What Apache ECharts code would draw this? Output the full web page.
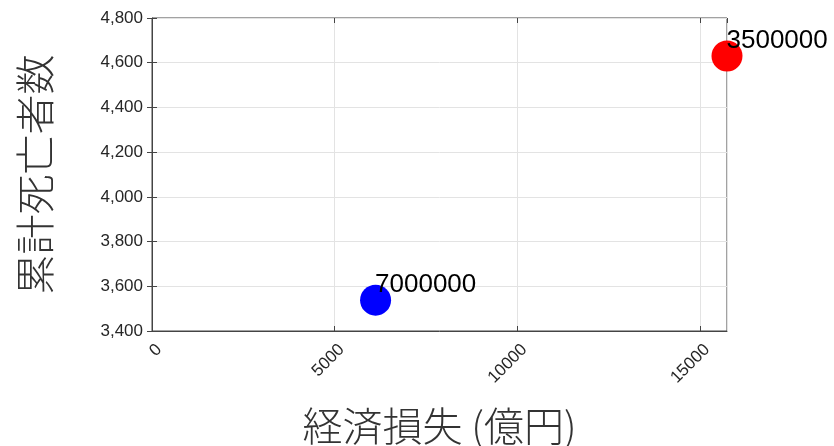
<!DOCTYPE html>
<html>
<head>
<meta charset="utf-8">
<script src="https://cdn.jsdelivr.net/npm/echarts@6/dist/echarts.min.js"></script>
<style>
  html,body{margin:0;padding:0;background:#fff;}
  #main{width:834px;height:446px;}
</style>
</head>
<body>
<div id="main"></div>
<script>
// データ
const losses = [6120, 15740];          // 経済損失 (億円)
const deaths = [3538, 4630];           // 累計死亡者数
const pointLabels = ['7000000', '3500000'];
const pointColors = ['#0000ff', '#ff0000'];
const xTicks = [0, 5000, 10000, 15000];
const yTicks = [3400, 3600, 3800, 4000, 4200, 4400, 4600, 4800];

const chart = echarts.init(document.getElementById('main'));

const tickStyle = {show: true, inside: true, length: 5, lineStyle: {color: '#444'}};
const gridLine = {show: true, lineStyle: {color: '#e3e3e3', width: 1}};
const titleStyle = {fontFamily: 'Noto Sans CJK JP', fontSize: 40, color: '#333', fontWeight: 300};

const xMin = xTicks[0], xMax = losses[1];
const yMin = yTicks[0], yMax = yTicks[yTicks.length - 1];

let points = losses.map((x, i) => ({
  value: [x, deaths[i]],
  name: pointLabels[i],
  itemStyle: {color: pointColors[i], opacity: 1}
}));

chart.setOption({
  animation: false,
  grid: {left: 152, right: 107, top: 18, bottom: 115, outerBoundsMode: 'none', containLabel: false,
    show: true, borderColor: '#444', borderWidth: 1},
  xAxis: [{
    type: 'value', min: xMin, max: xMax, interval: 5000,
    name: '経済損失 (億円)', nameLocation: 'middle', nameGap: 75,
    nameTextStyle: titleStyle,
    axisLine: {show: true, lineStyle: {color: '#444'}},
    axisTick: tickStyle,
    splitLine: gridLine,
    axisLabel: {rotate: 45, fontFamily: 'Liberation Sans', fontSize: 17, color: '#262626', margin: 9,
      verticalAlign: 'top', lineHeight: 20,
      showMaxLabel: false,
      formatter: v => xTicks.includes(v) ? String(v) : ''}
  }, {
    type: 'value', position: 'top', min: xMin, max: xMax, interval: 5000,
    axisLine: {show: false}, axisTick: tickStyle, axisLabel: {show: false}, splitLine: {show: false}
  }],
  yAxis: [{
    type: 'value', min: yMin, max: yMax, interval: 200,
    name: '累計死亡者数', nameLocation: 'middle', nameGap: 97,
    nameTextStyle: titleStyle,
    axisLine: {show: true, lineStyle: {color: '#444'}},
    axisTick: tickStyle,
    splitLine: gridLine,
    axisLabel: {fontFamily: 'Liberation Sans', fontSize: 17, color: '#262626', margin: 9,
      formatter: v => v.toLocaleString('en-US')}
  }, {
    type: 'value', position: 'right', min: yMin, max: yMax, interval: 200,
    axisLine: {show: false}, axisTick: tickStyle, axisLabel: {show: false}, splitLine: {show: false}
  }],
  series: [{
    type: 'scatter',
    symbolSize: 31,
    data: points,
    label: {
      show: true,
      position: [15, 0],
      align: 'left',
      verticalAlign: 'middle',
      formatter: p => p.name,
      fontFamily: 'Liberation Sans',
      fontSize: 26,
      color: '#000'
    },
    z: 5
  }]
});
</script>
</body>
</html>
